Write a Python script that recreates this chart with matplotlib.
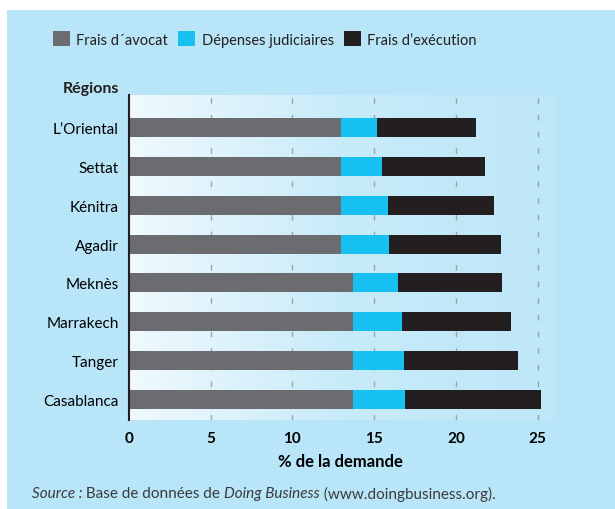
import matplotlib
matplotlib.use("Agg")
import matplotlib.pyplot as plt
import numpy as np
from matplotlib.colors import LinearSegmentedColormap
from matplotlib.patches import Rectangle

regions = ["L’Oriental", "Settat", "Kénitra", "Agadir", "Meknès",
           "Marrakech", "Tanger", "Casablanca"]
avocat = [13.0, 13.0, 13.0, 13.0, 13.7, 13.7, 13.7, 13.7]
judiciaires = [2.2, 2.45, 2.85, 2.9, 2.75, 3.0, 3.1, 3.2]
execution = [6.0, 6.35, 6.5, 6.85, 6.35, 6.65, 7.0, 8.3]
series_names = ["Frais d´avocat", "Dépenses judiciaires", "Frais d’exécution"]
xticks = [0, 5, 10, 15, 20, 25]

GREY = "#6b6c6f"
BLUE = "#16c1f1"
BLACK = "#231f20"
PANEL = "#b9e5f8"
FONT = "Lato"

plt.rcParams["font.family"] = [FONT, "DejaVu Sans"]
plt.rcParams["text.color"] = BLACK

fig = plt.figure(figsize=(6.15, 5.10), dpi=100)
fig.patch.set_facecolor("white")
fig.patches.append(Rectangle((7 / 615, 0), 1, 1 - 11 / 510, transform=fig.transFigure,
                             facecolor=PANEL, edgecolor="none", zorder=-5))

ax = fig.add_axes([128.7 / 615, 89 / 510, (553 - 128.7) / 615, (421 - 96) / 510])
ax.set_zorder(2)
ax.patch.set_alpha(0)

# gradient backdrop
cmap = LinearSegmentedColormap.from_list("bg", ["#f0f9fe", "#c8ebf9", "#bee7f8"])
grad = np.linspace(0, 1, 256).reshape(1, -1)
ax.imshow(grad, aspect="auto", cmap=cmap, extent=[0, 1, 0, 1],
          transform=ax.transAxes, zorder=0)

y = np.arange(len(regions))
left = np.zeros(len(regions))
for vals, col, name in zip([avocat, judiciaires, execution], [GREY, BLUE, BLACK], series_names):
    ax.barh(y, vals, left=left, height=0.49, color=col, label=name, zorder=3)
    left = left + np.array(vals)

ax.set_xlim(0, 25.93)
ax.set_ylim(7.53, -0.84)
ax.set_yticks(y)
ax.set_yticklabels(regions, fontsize=11)
ax.set_xticks(xticks)
ax.set_xticklabels([str(t) for t in xticks], fontsize=11, fontweight="bold")
ax.tick_params(length=0, pad=8)
ax.tick_params(axis="y", pad=7)
for t in xticks[1:]:
    ax.axvline(t, color="#9aa3ab", lw=1, ls=(0, (4, 8)), zorder=1)
for s in ["top", "right", "bottom"]:
    ax.spines[s].set_visible(False)
ax.spines["left"].set_color(BLACK)
ax.spines["left"].set_linewidth(1.5)
ax.spines["left"].set_zorder(4)
ax.set_xlabel("% de la demande", fontsize=12, fontweight="bold", labelpad=6)

fig.text(119 / 615, 1 - 89 / 510, "Régions", fontsize=11.5, fontweight="bold",
         ha="right", va="center")

leg = fig.legend(loc="center", bbox_to_anchor=(265 / 615, 1 - 40 / 510), ncol=3,
                 frameon=False, fontsize=10.5, handlelength=1.15, handleheight=1.15,
                 handletextpad=0.45, columnspacing=0.7)

# source line with mixed italic/regular pieces
fig.canvas.draw()
renderer = fig.canvas.get_renderer()
pieces = [("Source :", "italic"), (" Base de données de ", "normal"),
          ("Doing Business", "italic"), (" (www.doingbusiness.org).", "normal")]
xpos = 32 / 615
for txt, style in pieces:
    t = fig.text(xpos, 1 - 494 / 510, txt, fontsize=11, style=style,
                 ha="left", va="center", color="#3a3a3c")
    bb = t.get_window_extent(renderer)
    xpos = bb.x1 / fig.bbox.width

fig.savefig("out.png", dpi=100)
